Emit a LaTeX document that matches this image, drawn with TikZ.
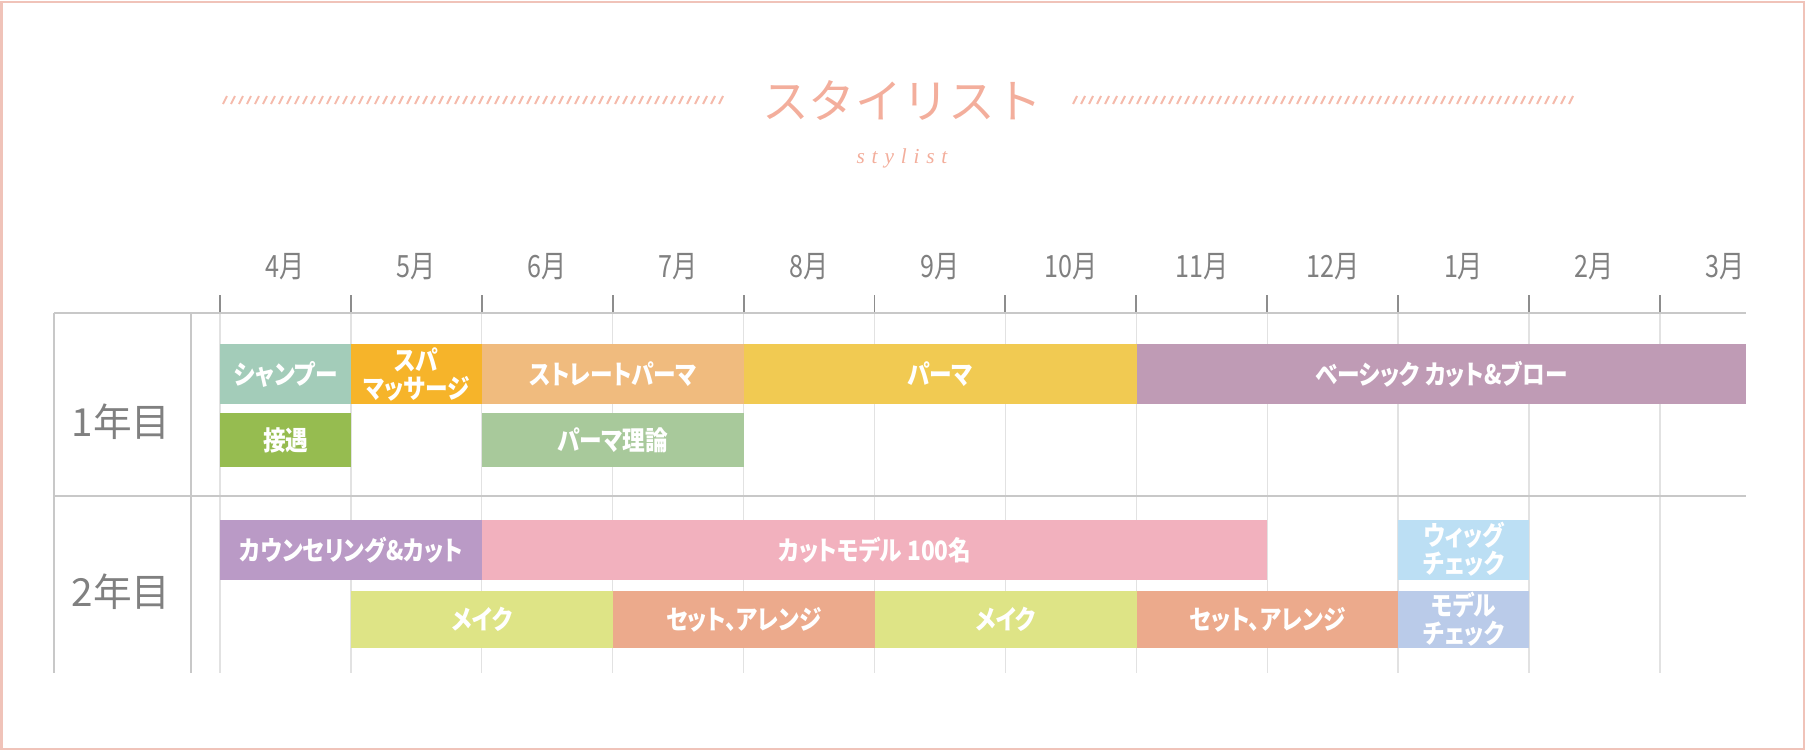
\documentclass[tikz,border=0pt]{standalone}
\usepackage{fontspec}
\usepackage{xcolor}
\newfontfamily\jp[FakeStretch=0.85, RawFeature=+palt]{Noto Sans CJK JP}
\newfontfamily\jpmonth[FakeStretch=0.82]{Noto Sans CJK JP}
\newfontfamily\jptitle{Noto Sans CJK JP}
\newfontfamily\stylfont[LetterSpace=32]{Liberation Serif}
\definecolor{moldura}{HTML}{F0C3B9}
\definecolor{salmao}{HTML}{F3AE9C}
\definecolor{cinzatxt}{HTML}{808080}
\definecolor{cinzalinha}{HTML}{C8C8C8}
\definecolor{cinzagrade}{HTML}{E2E2E2}
\definecolor{cshampoo}{HTML}{A3CCB9}
\definecolor{cspa}{HTML}{F6B42A}
\definecolor{cstraight}{HTML}{F0BB7E}
\definecolor{cperm}{HTML}{F1CA52}
\definecolor{cbasic}{HTML}{BF9BB5}
\definecolor{cmanner}{HTML}{96BC50}
\definecolor{ctheory}{HTML}{A8C99B}
\definecolor{ccounsel}{HTML}{BA9AC6}
\definecolor{cmodel}{HTML}{F2B1BE}
\definecolor{cwig}{HTML}{BCDFF4}
\definecolor{cmake}{HTML}{DEE486}
\definecolor{cset}{HTML}{ECAA8C}
\definecolor{cmcheck}{HTML}{BACBE9}

\begin{document}
\begin{tikzpicture}[
        x=0.75pt, y=-0.75pt,
        % Estilo das barras do cronograma
        bar/.style = {
            anchor=west,
            inner sep=0pt,
            align=center,
            text=white,
            minimum height=45pt,
            font=\jp\bfseries\fontsize{20pt}{21pt}\selectfont
        },
        mw/.style = {minimum width=#1*98.175pt},
        low/.style = {minimum height=40.5pt},
        lowd/.style = {minimum height=42.75pt},
        % Estilo dos meses e dos anos
        month/.style = {text=cinzatxt, font=\jpmonth\fontsize{23pt}{24pt}\selectfont},
        year/.style = {text=cinzatxt, font=\jptitle\fontsize{29pt}{31pt}\selectfont},
        % Estilo das linhas
        tick/.style = {draw=cinzatxt!90, line width=1.4pt},
        gridv/.style = {draw=cinzagrade, line width=1pt},
        gridh/.style = {draw=cinzalinha, line width=1pt},
        hatch/.style = {draw=salmao!85, line width=1.5pt}
    ]
    \useasboundingbox (0,0) rectangle (1805,750);
    \draw[moldura, line width=1.5pt] (1.5,1.5) rectangle (1803.5,748.5);

    % Titulo
    \node[text=salmao, font=\jptitle\fontsize{35pt}{37pt}\selectfont] (title) at (902,101) {スタイリスト};
    \node[text=salmao, font=\stylfont\itshape\fontsize{16pt}{16pt}\selectfont] (subtitle) at (902,158) {stylist};
    \foreach \i in {0,...,62} {
        \draw[hatch] (223+\i*8,104) -- ++(4,-8);
        \draw[hatch] (1073+\i*8,104) -- ++(4,-8);
    }

    % Grade
    \foreach \i in {0,...,11} {
        \draw[gridv] (220+\i*130.9,313) -- (220+\i*130.9,673);
        \draw[tick] (220+\i*130.9,295) -- (220+\i*130.9,313);
    }
    \draw[gridh] (54,313) -- (1746,313);
    \draw[gridh] (54,496) -- (1746,496);
    \draw[gridh] (54,313) -- (54,673);
    \draw[gridh] (191,313) -- (191,673);

    % Meses
    \foreach \m [count=\i from 0] in {4,5,6,7,8,9,10,11,12,1,2,3}
        \node[month] (mon\i) at (285.45+\i*130.9,267) {\m 月};

    % Anos
    \node[year] (year1) at (121,422) {1年目};
    \node[year] (year2) at (121,592) {2年目};

    % 1年目
    \node[bar, mw=1, fill=cshampoo] (shampoo) at (220,374) {シャンプー};
    \node[bar, mw=1, fill=cspa] (spa) at (350.9,374) {スパ\\マッサージ};
    \node[bar, mw=2, fill=cstraight] (straight) at (481.8,374) {ストレートパーマ};
    \node[bar, mw=3, fill=cperm] (perm) at (743.6,374) {パーマ};
    \node[bar, mw=4.658, fill=cbasic] (basic) at (1136.3,374) {ベーシック カット\&ブロー};
    \node[bar, low, mw=1, fill=cmanner] (manner) at (220,440) {接遇};
    \node[bar, low, mw=2, fill=ctheory] (theory) at (481.8,440) {パーマ理論};

    % 2年目
    \node[bar, mw=2, fill=ccounsel] (counsel) at (220,550) {カウンセリング\&カット};
    \node[bar, mw=6, fill=cmodel] (cutmodel) at (481.8,550) {カットモデル 100名};
    \node[bar, mw=1, fill=cwig] (wig) at (1398.1,549.5) {ウィッグ\\チェック};
    \node[bar, lowd, mw=2, fill=cmake] (make1) at (350.9,619.5) {メイク};
    \node[bar, lowd, mw=2, fill=cset] (set1) at (612.7,619.5) {セット、アレンジ};
    \node[bar, lowd, mw=2, fill=cmake] (make2) at (874.5,619.5) {メイク};
    \node[bar, lowd, mw=2, fill=cset] (set2) at (1136.3,619.5) {セット、アレンジ};
    \node[bar, lowd, mw=1, fill=cmcheck] (mcheck) at (1398.1,619.5) {モデル\\チェック};
\end{tikzpicture}
\end{document}
